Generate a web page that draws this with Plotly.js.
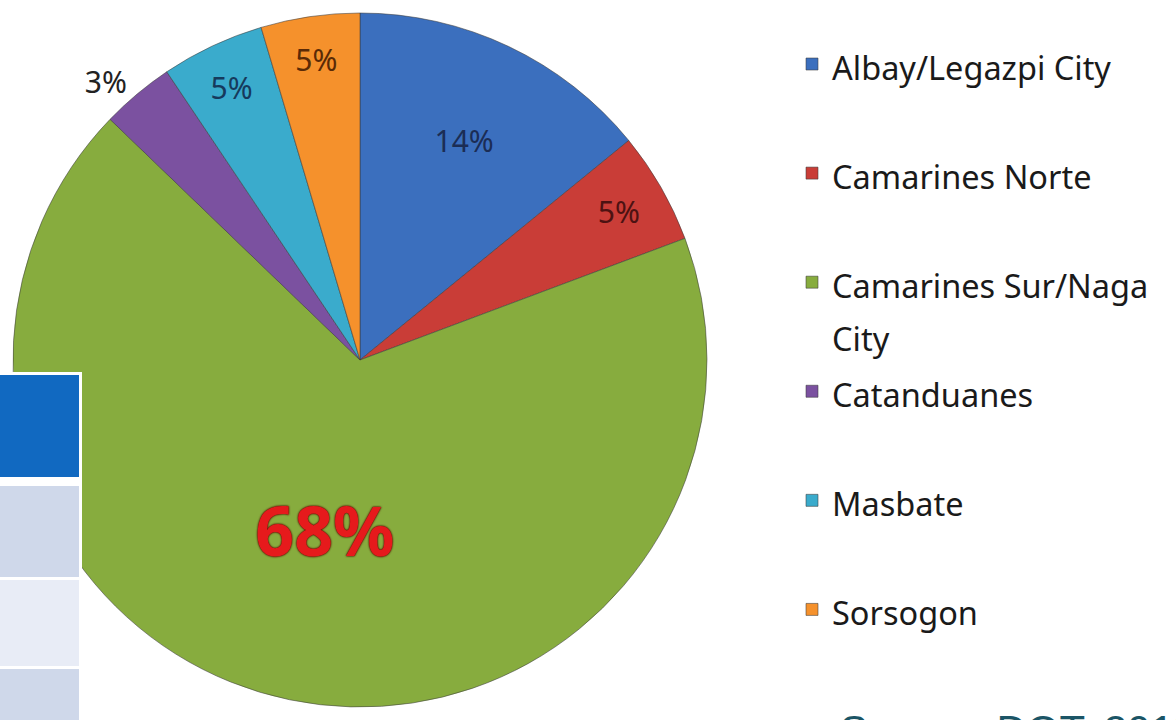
<!DOCTYPE html>
<html>
<head>
<meta charset="utf-8">
<script src="https://cdn.plot.ly/plotly-3.0.1.min.js"></script>
<style>html,body{margin:0;padding:0;background:#fff;}#chart{width:1176px;height:720px;}</style>
</head>
<body>
<div id="chart"></div>
<script>
// Data (slice angles; labels round to 14/5/68/3/5/5 %)
var provinces = ["Albay/Legazpi City", "Camarines Norte", "Camarines Sur/Naga City", "Catanduanes", "Masbate", "Sorsogon"];
var shares = [14.1, 5.2, 67.9, 3.4, 4.8, 4.6];
var sliceColors = ["#3b6fbe", "#c93d37", "#87ac3e", "#7b51a0", "#3aabcc", "#f5912c"];
var labelColors = ["#1b2d55", "#4d1212", "#e61a1c", "#222222", "#163a5c", "#5a2a06"];
var labelSizes = [30, 30, 68, 30, 30, 30];
var labelPositions = ["inside", "inside", "inside", "outside", "inside", "inside"];
var sourceNote = "Source: DOT, 2011";

// legend labels: wrap long names at ~18 chars, set glyph size, pad every entry to 2 lines
function legendLabel(s) {
  var words = s.split(" "), lines = [], cur = "";
  words.forEach(function (w) {
    if ((cur + " " + w).trim().length > 18 && cur) { lines.push(cur); cur = w; }
    else { cur = (cur + " " + w).trim(); }
  });
  lines.push(cur);
  lines = lines.map(function (l) { return '<span style="font-size:32.5px">' + l + '</span>'; });
  while (lines.length < 2) lines.push(" ");
  return lines.join("<br>");
}

var trace = {
  type: "pie",
  labels: provinces.map(legendLabel),
  values: shares,
  sort: false,
  direction: "clockwise",
  rotation: 0,
  domain: {x: [13 / 1176, 707 / 1176], y: [13 / 720, 707 / 720]},
  marker: {colors: sliceColors, line: {color: "rgba(60,60,60,0.55)", width: 1}},
  texttemplate: shares.map(function (v, i) { return i === 2 ? "<b>%{percent:.0%}</b>" : "%{percent:.0%}"; }),
  textposition: labelPositions,
  insidetextorientation: "horizontal",
  textfont: {
    family: "Noto Sans, sans-serif", size: labelSizes, color: labelColors,
    shadow: shares.map(function (v, i) { return i === 2 ? "0px 0px 2px #5a0c00, 0px 0px 2px #5a0c00" : "none"; })
  },
  hoverinfo: "percent",
  automargin: false
};

var layout = {
  width: 1176,
  height: 720,
  margin: {l: 0, r: 0, t: 0, b: 0},
  paper_bgcolor: "#ffffff",
  showlegend: true,
  legend: {
    x: 792 / 1176, xanchor: "left",
    y: 1 - 31 / 720, yanchor: "top",
    valign: "top",
    font: {family: "Noto Sans, sans-serif", size: 40.8, color: "#1a1a1a"},
    bgcolor: "rgba(0,0,0,0)",
    borderwidth: 0
  },
  shapes: [
    {type: "rect", xref: "paper", yref: "paper", x0: 0, x1: 82 / 1176, y0: 0, y1: 1 - 372 / 720, fillcolor: "#ffffff", line: {width: 0}, layer: "above"},
    {type: "rect", xref: "paper", yref: "paper", x0: 0, x1: 79 / 1176, y0: 1 - 477 / 720, y1: 1 - 375 / 720, fillcolor: "#1169c1", line: {width: 0}, layer: "above"},
    {type: "rect", xref: "paper", yref: "paper", x0: 0, x1: 79 / 1176, y0: 1 - 577 / 720, y1: 1 - 486 / 720, fillcolor: "#cfd8ea", line: {width: 0}, layer: "above"},
    {type: "rect", xref: "paper", yref: "paper", x0: 0, x1: 79 / 1176, y0: 1 - 666 / 720, y1: 1 - 580 / 720, fillcolor: "#e8ecf6", line: {width: 0}, layer: "above"},
    {type: "rect", xref: "paper", yref: "paper", x0: 0, x1: 79 / 1176, y0: 0, y1: 1 - 669 / 720, fillcolor: "#cfd8ea", line: {width: 0}, layer: "above"}
  ],
  annotations: [
    {text: sourceNote, xref: "paper", yref: "paper", x: 838 / 1176, y: 1 - 705 / 720, xanchor: "left", yanchor: "top",
     showarrow: false, font: {family: "Liberation Sans, Arial, sans-serif", size: 42, color: "#1b5566"}}
  ]
};

Plotly.newPlot("chart", [trace], layout, {displayModeBar: false, staticPlot: true});
</script>
</body>
</html>
